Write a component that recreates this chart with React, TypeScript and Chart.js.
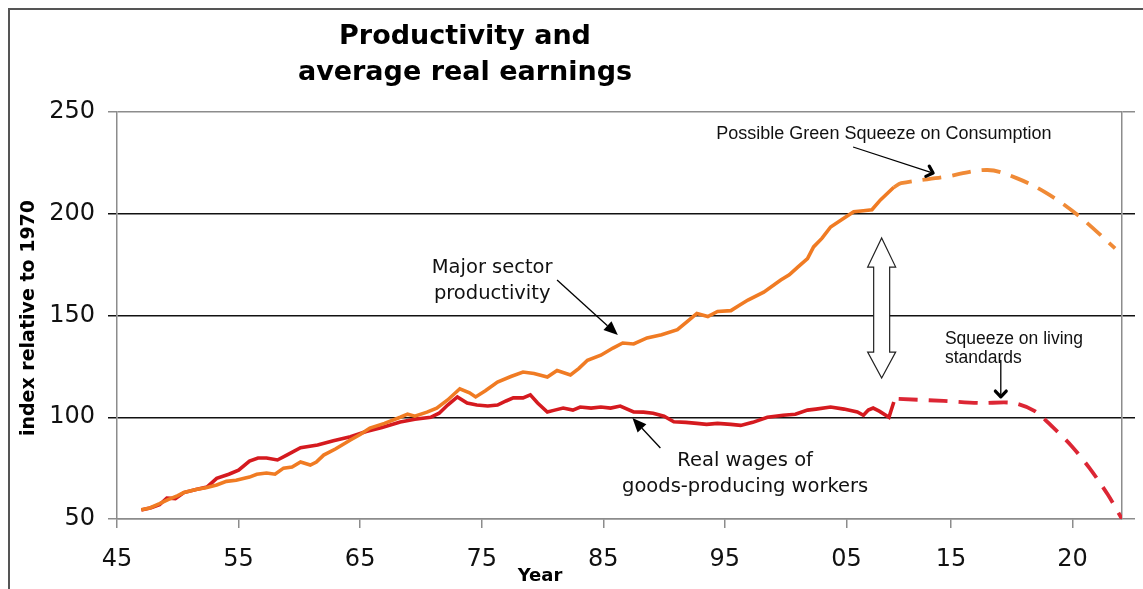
import React, { useEffect, useRef } from "react";
import { Chart, registerables } from "chart.js";

Chart.register(...registerables);

// ---------- data ----------
const PROD_YEARS = [
  1947.0, 1947.7, 1948.5, 1949.2, 1950.0, 1950.5, 1951.5, 1952.4, 1953.2, 1954.0, 1954.8, 1955.9,
  1956.5, 1957.3, 1958.0, 1958.7, 1959.4, 1960.1, 1960.9, 1961.4, 1962.0, 1963.0, 1964.2, 1965.0,
  1965.8, 1967.0, 1968.3, 1968.9, 1969.5, 1970.5, 1971.3, 1972.2, 1973.2, 1974.0, 1974.5, 1975.3,
  1976.3, 1977.4, 1978.4, 1979.3, 1980.4, 1981.2, 1982.3, 1983.0, 1983.7, 1984.8, 1985.8, 1986.6,
  1987.5, 1988.6, 1989.8, 1991.1, 1991.9, 1992.7, 1993.6, 1994.4, 1995.5, 1996.2, 1996.9, 1998.2,
  1999.6, 2000.3, 2001.0, 2001.8, 2002.3, 2003.0, 2003.7, 2004.6, 2005.6, 2006.4, 2007.1, 2007.8,
  2008.9,
];
const PROD_VALUES = [
  54.5, 55.4, 57.5, 59.5, 61.5, 63, 64.5, 65.5, 66.7, 68.5, 69, 70.6,
  72, 72.6, 72, 75, 75.5, 78, 76.5, 78, 81.4, 84.5, 88.8, 91.5,
  94.7, 97, 100, 101.5, 100.5, 102.5, 104.5, 108.5, 114, 112, 110, 113,
  117.3, 120, 122.2, 121.5, 119.8, 123, 120.8, 124, 128, 130.5, 134, 136.5,
  136, 139, 140.5, 143, 147, 151, 149.5, 152, 152.4, 155, 157.6, 161.5,
  167.4, 170, 173.8, 178, 183.7, 188, 193.5, 197, 201, 201.5, 202, 206.8,
  213,
];
const PROD_PROJ_YEARS = [2008.9, 2009.5, 2013.0, 2016.6, 2019.0, 2021.5, 2024.0, 2027.1];
const PROD_PROJ_VALUES = [213, 215, 218, 221.5, 217.5, 210, 199.5, 183];

const WAGE_YEARS = [
  1947.0, 1947.8, 1948.5, 1949.1, 1949.8, 1950.5, 1951.5, 1952.4, 1953.2, 1954.2, 1955.0, 1955.9,
  1956.6, 1957.3, 1958.2, 1959.0, 1960.1, 1961.5, 1962.8, 1964.2, 1965.5, 1966.8, 1968.3, 1969.5,
  1970.8, 1971.5, 1972.2, 1973.0, 1973.8, 1974.6, 1975.5, 1976.3, 1977.0, 1977.6, 1978.4, 1979.0,
  1979.6, 1980.4, 1981.0, 1981.7, 1982.5, 1983.1, 1984.0, 1984.8, 1985.6, 1986.4, 1987.5, 1988.3,
  1989.1, 1990.0, 1990.8, 1991.8, 1992.7, 1993.5, 1994.4, 1995.5, 1996.3, 1997.3, 1998.5, 1999.8,
  2000.8, 2001.8, 2002.5, 2003.7, 2004.8, 2005.9, 2006.4, 2006.8, 2007.2, 2007.7, 2008.5, 2008.9,
];
const WAGE_VALUES = [
  54.4, 55.5, 57, 60.3, 60, 63, 64.5, 65.7, 70, 72, 74, 78.5,
  80, 80, 79, 81.5, 85, 86.4, 88.5, 90.4, 93, 95, 97.7, 99,
  100, 102, 106, 110, 107, 106, 105.5, 106, 108, 109.5, 109.5, 111,
  107, 102.6, 103.5, 104.5, 103.5, 105, 104.5, 105, 104.5, 105.5, 102.6, 102.5,
  102, 100.5, 97.8, 97.5, 97, 96.5, 97, 96.5, 96, 97.5, 100, 101,
  101.5, 103.5, 104, 105, 104, 102.6, 101, 103.5, 104.5, 103, 100, 107.5,
];
const WAGE_PROJ_YEARS = [2009.3, 2013.0, 2016.0, 2018.7, 2020.5, 2022.0, 2023.5, 2025.0, 2026.5, 2027.67];
const WAGE_PROJ_VALUES = [109, 108, 107, 107, 103, 95, 86, 75, 62, 50];

const X_TICK_POS = [1945, 1955, 1965, 1975, 1985, 1995, 2005, 2013.6, 2023.6];
const X_TICK_LABELS = ["45", "55", "65", "75", "85", "95", "05", "15", "20"];
const X_MIN = 1945;
const X_MAX = 2027.67;
const Y_MIN = 50;
const Y_MAX = 250;
const Y_STEP = 50;
const Y_BLACK_LINES = [100, 150, 200];

const TITLE_LINES = ["Productivity and", "average real earnings"];
const Y_TITLE = "index relative to 1970";
const X_TITLE = "Year";

const NOTE_TEXTS = [
  ["Possible Green Squeeze on Consumption"],
  ["Major sector", "productivity"],
  ["Real wages of", "goods-producing workers"],
  ["Squeeze on living", "standards"],
];
const NOTE_X = [1994.3, 1975.86, 1996.67, 2013.1];
const NOTE_Y = [236.7, 170.9, 76.0, 136.0];

const ARROW_FROM_X = [2005.55, 1981.2, 1989.7, 2017.7];
const ARROW_FROM_Y = [232.8, 167.4, 84.9, 128.1];
const ARROW_TO_X = [2012.13, 1986.2, 1987.4, 2017.7];
const ARROW_TO_Y = [220.0, 140.4, 99.6, 110.0];

const GAP_ARROW_X = 2007.9;
const GAP_ARROW_TIPS = [188.1, 119.3];
const GAP_ARROW_BASES = [173.8, 132.0];

// ---------- styles ----------
const ORANGE = "#F07B23";
const ORANGE_DASH = "#F08A36";
const RED = "#D51A1F";
const RED_DASH = "#DC2634";
const VERDANA = '"DejaVu Sans", Verdana, sans-serif';
const ARIAL = '"Liberation Sans", Arial, sans-serif';

const NOTE_STYLE = [
  { align: "left", font: `18px ${ARIAL}`, lh: 20 },
  { align: "center", font: `19.5px ${VERDANA}`, lh: 26 },
  { align: "center", font: `19.5px ${VERDANA}`, lh: 26 },
  { align: "left", font: `17.5px ${ARIAL}`, lh: 19 },
];
const ARROW_STYLE = ["chevron", "filled", "filled", "chevron"];

const zip = (xs: number[], ys: number[]) => xs.map((x, i) => ({ x, y: ys[i] }));

function drawArrow(ctx: CanvasRenderingContext2D, x1: number, y1: number, x2: number, y2: number, kind: string) {
  const ang = Math.atan2(y2 - y1, x2 - x1);
  ctx.save();
  ctx.strokeStyle = "#000";
  ctx.fillStyle = "#000";
  ctx.lineWidth = 1.3;
  ctx.beginPath();
  ctx.moveTo(x1, y1);
  if (kind === "filled") {
    const hl = 14;
    const bx = x2 - hl * Math.cos(ang);
    const by = y2 - hl * Math.sin(ang);
    ctx.lineTo(bx, by);
    ctx.stroke();
    const hw = 6;
    ctx.beginPath();
    ctx.moveTo(x2, y2);
    ctx.lineTo(bx + hw * Math.sin(ang), by - hw * Math.cos(ang));
    ctx.lineTo(bx - hw * Math.sin(ang), by + hw * Math.cos(ang));
    ctx.closePath();
    ctx.fill();
  } else {
    ctx.lineTo(x2, y2);
    ctx.stroke();
    const hl = 8;
    ctx.lineWidth = 3.2;
    ctx.lineCap = "round";
    ctx.lineJoin = "round";
    ctx.beginPath();
    ctx.moveTo(x2 - hl * Math.cos(ang - 0.75), y2 - hl * Math.sin(ang - 0.75));
    ctx.lineTo(x2, y2);
    ctx.lineTo(x2 - hl * Math.cos(ang + 0.75), y2 - hl * Math.sin(ang + 0.75));
    ctx.stroke();
  }
  ctx.restore();
}

const decorPlugin = {
  id: "decor",
  beforeDraw(chart: any) {
    const { ctx, width, height } = chart;
    ctx.save();
    ctx.fillStyle = "#fff";
    ctx.fillRect(0, 0, width, height);
    ctx.strokeStyle = "#555";
    ctx.lineWidth = 2;
    ctx.beginPath();
    ctx.moveTo(9, height);
    ctx.lineTo(9, 9);
    ctx.lineTo(width, 9);
    ctx.stroke();
    ctx.restore();
  },
  afterDatasetsDraw(chart: any) {
    const { ctx } = chart;
    const xs = chart.scales.x;
    const ys = chart.scales.y;
    const px = (v: number) => xs.getPixelForValue(v);
    const py = (v: number) => ys.getPixelForValue(v);
    ctx.save();
    NOTE_TEXTS.forEach((lines, i) => {
      const st = NOTE_STYLE[i];
      ctx.font = st.font;
      ctx.fillStyle = "#111";
      ctx.textAlign = st.align as CanvasTextAlign;
      ctx.textBaseline = "alphabetic";
      lines.forEach((ln, j) => ctx.fillText(ln, px(NOTE_X[i]), py(NOTE_Y[i]) + j * st.lh));
    });
    ARROW_FROM_X.forEach((_, i) => {
      drawArrow(ctx, px(ARROW_FROM_X[i]), py(ARROW_FROM_Y[i]), px(ARROW_TO_X[i]), py(ARROW_TO_Y[i]), ARROW_STYLE[i]);
    });
    const cx = px(GAP_ARROW_X);
    const tTop = py(GAP_ARROW_TIPS[0]);
    const tBot = py(GAP_ARROW_TIPS[1]);
    const bTop = py(GAP_ARROW_BASES[0]);
    const bBot = py(GAP_ARROW_BASES[1]);
    const hw = 14;
    const sw = 8;
    ctx.beginPath();
    ctx.moveTo(cx, tTop);
    ctx.lineTo(cx + hw, bTop);
    ctx.lineTo(cx + sw, bTop);
    ctx.lineTo(cx + sw, bBot);
    ctx.lineTo(cx + hw, bBot);
    ctx.lineTo(cx, tBot);
    ctx.lineTo(cx - hw, bBot);
    ctx.lineTo(cx - sw, bBot);
    ctx.lineTo(cx - sw, bTop);
    ctx.lineTo(cx - hw, bTop);
    ctx.closePath();
    ctx.fillStyle = "#fff";
    ctx.fill();
    ctx.strokeStyle = "#222";
    ctx.lineWidth = 1.2;
    ctx.stroke();
    ctx.restore();
  },
  afterDraw(chart: any) {
    const { ctx } = chart;
    ctx.save();
    ctx.fillStyle = "#000";
    ctx.textAlign = "center";
    ctx.textBaseline = "alphabetic";
    ctx.font = `bold 27px ${VERDANA}`;
    ctx.fillText(TITLE_LINES[0], 465, 44);
    ctx.fillText(TITLE_LINES[1], 465, 80);
    ctx.font = `bold 18px ${VERDANA}`;
    ctx.fillText(X_TITLE, 540, 581);
    ctx.font = `bold 19px ${VERDANA}`;
    ctx.translate(34, 318);
    ctx.rotate(-Math.PI / 2);
    ctx.fillText(Y_TITLE, 0, 0);
    ctx.restore();
  },
};

const gridColor = (ctx: any) =>
  Y_BLACK_LINES.includes(ctx.tick && ctx.tick.value) ? "#111" : "#8c8c8c";

export default function App() {
  const ref = useRef<HTMLCanvasElement | null>(null);
  useEffect(() => {
    if (!ref.current) return;
    const chart = new Chart(ref.current, {
      type: "line",
      data: {
        datasets: [
          { data: zip(PROD_YEARS, PROD_VALUES), borderColor: ORANGE, borderWidth: 3.6, pointRadius: 0, tension: 0 },
          { data: zip(PROD_PROJ_YEARS, PROD_PROJ_VALUES), borderColor: ORANGE_DASH, borderWidth: 3.8, borderDash: [19, 11], pointRadius: 0, tension: 0.35 },
          { data: zip(WAGE_YEARS, WAGE_VALUES), borderColor: RED, borderWidth: 3.6, pointRadius: 0, tension: 0 },
          { data: zip(WAGE_PROJ_YEARS, WAGE_PROJ_VALUES), borderColor: RED_DASH, borderWidth: 3.8, borderDash: [19, 11], pointRadius: 0, tension: 0.3 },
        ],
      },
      options: {
        animation: false,
        responsive: false,
        maintainAspectRatio: false,
        events: [],
        layout: { padding: { top: 112, right: 8, left: 0, bottom: 0 } },
        plugins: { legend: { display: false }, tooltip: { enabled: false }, title: { display: false } },
        scales: {
          x: {
            type: "linear",
            min: X_MIN,
            max: X_MAX,
            position: "bottom",
            border: { color: "#8c8c8c", width: 1.5 },
            grid: { drawOnChartArea: false, drawTicks: true, tickLength: 9, color: "#8c8c8c", lineWidth: 1.5 },
            afterBuildTicks: (axis: any) => {
              axis.ticks = X_TICK_POS.map((v) => ({ value: v }));
            },
            ticks: {
              autoSkip: false,
              maxRotation: 0,
              padding: 17,
              color: "#111",
              font: { family: VERDANA, size: 24 },
              callback: (_v: any, i: number) => X_TICK_LABELS[i],
            },
            afterFit: (s: any) => {
              s.height = 70;
            },
          },
          y: {
            type: "linear",
            min: Y_MIN,
            max: Y_MAX,
            position: "left",
            border: { color: "#8c8c8c", width: 1.5 },
            grid: { color: gridColor, lineWidth: 1.5, tickLength: 9 },
            ticks: { stepSize: Y_STEP, padding: 13, color: "#111", font: { family: VERDANA, size: 24 } },
            afterFit: (s: any) => {
              s.width = 117;
            },
          },
          y2: {
            type: "linear",
            min: Y_MIN,
            max: Y_MAX,
            position: "right",
            border: { color: "#8c8c8c", width: 1.5 },
            grid: { drawOnChartArea: false, color: gridColor, lineWidth: 1.5, tickLength: 13 },
            ticks: { stepSize: Y_STEP, display: false },
            afterFit: (s: any) => {
              s.width = 13;
            },
          },
        },
      },
      plugins: [decorPlugin],
    } as any);
    return () => chart.destroy();
  }, []);
  return (
    <div style={{ position: "fixed", left: 0, top: 0, width: 1143, height: 589, background: "#fff" }}>
      <canvas ref={ref} width={1143} height={589} style={{ display: "block", width: 1143, height: 589 }} />
    </div>
  );
}
